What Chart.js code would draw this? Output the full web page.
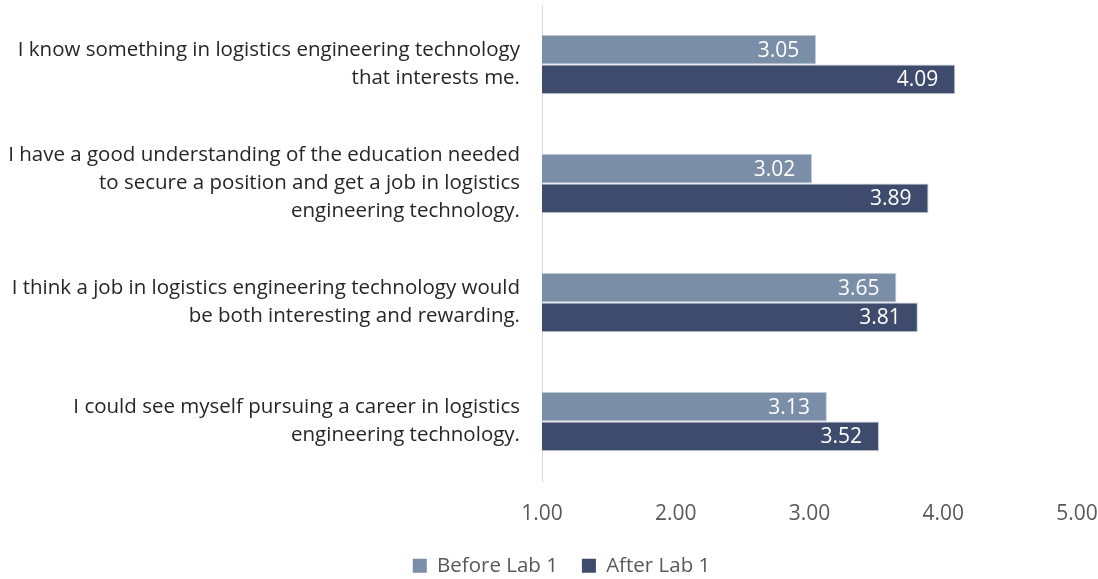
<!DOCTYPE html>
<html>
<head>
<meta charset="utf-8">
<title>Lab 1 survey</title>
<script src="https://cdn.jsdelivr.net/npm/chart.js@4"></script>
<style>
  html, body { margin: 0; padding: 0; background: #fff; }
  .wrap { width: 1098px; height: 579px; position: relative; }
</style>
</head>
<body>
<div class="wrap"><canvas id="survey"></canvas></div>
<script>
// ── DATA ────────────────────────────────────────────────────
const questions = [
  ['I know something in logistics engineering technology', 'that interests me.'],
  ['I have a good understanding of the education needed', 'to secure a position and get a job in logistics', 'engineering technology.'],
  ['I think a job in logistics engineering technology would', 'be both interesting and rewarding.'],
  ['I could see myself pursuing a career in logistics', 'engineering technology.']
];
const beforeLab = [3.05, 3.02, 3.65, 3.13];
const afterLab  = [4.09, 3.89, 3.81, 3.52];
const seriesNames = ['Before Lab 1', 'After Lab 1'];
const scaleTicks = [1, 2, 3, 4, 5];

const FONT = "'Open Sans', 'Segoe UI', sans-serif";

// ── VALUE LABELS (inside end of each bar) ───────────────────
const barValues = {
  id: 'barValues',
  // legend sits a little right of the canvas centre
  afterLayout(chart) {
    if (chart.legend) { chart.legend.left += 15; chart.legend.right += 15; }
  },
  afterDatasetsDraw(chart) {
    const { ctx } = chart;
    ctx.save();
    ctx.font = `21px ${FONT}`;
    ctx.fillStyle = '#ffffff';
    ctx.textAlign = 'right';
    ctx.textBaseline = 'middle';
    chart.data.datasets.forEach((ds, i) => {
      chart.getDatasetMeta(i).data.forEach((bar, j) => {
        ctx.fillText(ds.data[j].toFixed(2), bar.x - 17, bar.y + 1);
      });
    });
    ctx.restore();
  }
};

new Chart(document.getElementById('survey'), {
  type: 'bar',
  data: {
    labels: questions,
    datasets: [
      { label: seriesNames[0], data: beforeLab, backgroundColor: '#7a8ea8', borderColor: '#c9d0da', borderWidth: 1 },
      { label: seriesNames[1], data: afterLab,  backgroundColor: '#3e4b6d', borderColor: '#c9d0da', borderWidth: 1 }
    ]
  },
  options: {
    indexAxis: 'y',
    responsive: true,
    maintainAspectRatio: false,
    animation: false,
    layout: { padding: { top: 5, right: 5, left: 0, bottom: -7 } },
    datasets: { bar: { categoryPercentage: 0.5, barPercentage: 1.0 } },
    plugins: {
      legend: {
        position: 'bottom',
        labels: {
          boxWidth: 14, boxHeight: 14, padding: 24,
          color: '#595959',
          font: { family: FONT, size: 20.5 },
          generateLabels: chart => chart.data.datasets.map((ds, i) => ({
            text: ds.label, fillStyle: ds.backgroundColor, strokeStyle: ds.backgroundColor,
            lineWidth: 0, datasetIndex: i, fontColor: '#595959'
          }))
        }
      },
      tooltip: { enabled: false }
    },
    scales: {
      x: {
        min: scaleTicks[0],
        max: scaleTicks[scaleTicks.length - 1],
        afterBuildTicks: axis => { axis.ticks = scaleTicks.map(v => ({ value: v })); },
        // room for half of the last tick label only; fixed band under the plot
        afterFit: axis => { axis.paddingRight = 21; axis.height = 50.5; },
        grid: { display: false, drawTicks: false },
        border: { display: false },
        ticks: {
          padding: 20,
          color: '#595959',
          font: { family: FONT, size: 21 },
          callback: v => Number(v).toFixed(2)
        }
      },
      y: {
        grid: { display: false, drawTicks: false },
        border: { display: true, color: '#d9d9d9', width: 1 },
        // label column is a fixed width, and the tall labels should not push the plot down
        afterFit: axis => { axis.width = 542; axis.paddingTop = 0; axis.paddingBottom = 0; },
        ticks: {
          padding: 22,
          color: '#262626',
          font: { family: FONT, size: 20.5, lineHeight: 1.366 }
        }
      }
    }
  },
  plugins: [barValues]
});
</script>
</body>
</html>
